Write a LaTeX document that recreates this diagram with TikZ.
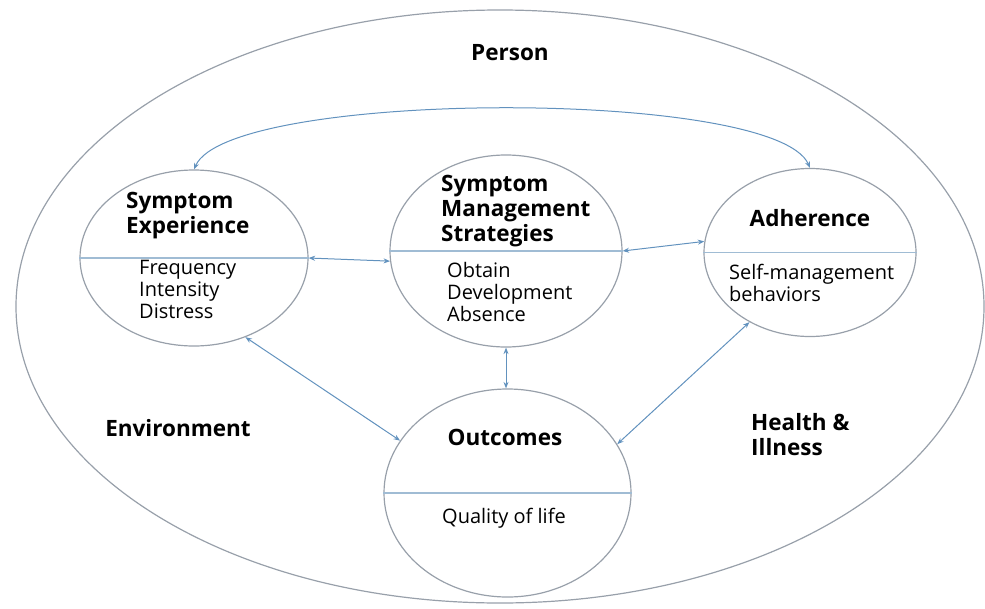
\documentclass[tikz,border=0pt]{standalone}
\usepackage{fontspec}
\setmainfont{Open Sans}
\usetikzlibrary{shapes, arrows.meta}
\definecolor{rimgray}{RGB}{152,160,170}
\definecolor{linkblue}{RGB}{98,146,190}
\definecolor{splitblue}{RGB}{160,188,212}

\begin{document}
\begin{tikzpicture}[x=1pt,y=-1pt]
      \tikzset{bubble/.style 2 args={ellipse,
          draw=rimgray,
          line width=1.2pt,
          inner sep=0pt,
          minimum width=#1,
          minimum height=#2},
        heading/.style={font=\fontsize{22.5}{25}\selectfont\bfseries, align=left, inner sep=0pt},
        items/.style={font=\fontsize{20}{22}\selectfont, align=left, anchor=west, inner sep=0pt},
        split line/.style={draw=splitblue, line width=1.2pt},
        link/.style={draw=linkblue, line width=1pt,
          {Stealth[length=6.5pt,width=5pt]}-{Stealth[length=6.5pt,width=5pt]}}
      }
      \useasboundingbox (0,0) rectangle (985,608);
      \node [bubble={968pt}{593pt}] (P) at (500,306.5) {};
      \node [bubble={228pt}{176pt}] (SE) at (194,258) {};
      \node [bubble={232pt}{192pt}] (SMS) at (506,251) {};
      \node [bubble={212pt}{168pt}] (AD) at (810,252.5) {};
      \node [bubble={247pt}{208pt}] (OC) at (507.5,493) {};

      \draw [split line] (SE.west) -- (SE.east);
      \draw [split line] (SMS.west) -- (SMS.east);
      \draw [split line] (AD.west) -- (AD.east);
      \draw [split line] (OC.west) -- (OC.east);

      \node [heading] (person) at (510,53) {Person};
      \node [heading, anchor=west] (SEt) at (126,215.5) {Symptom\\Experience};
      \node [heading, anchor=west] (SMSt) at (441,211) {Symptom\\Management\\Strategies};
      \node [heading] (ADt) at (810,218) {Adherence};
      \node [heading] (OCt) at (505,437) {Outcomes};
      \node [heading] (env) at (178,428) {Environment};
      \node [heading, anchor=west] (hi) at (751,434.5) {Health \&\\Illness};

      \node [items] (SEi) at (139,289) {Frequency\\Intensity\\Distress};
      \node [items] (SMSi) at (447,292) {Obtain\\Development\\Absence};
      \node [items] (ADi) at (729,283) {Self-management\\behaviors};
      \node [items, anchor=center] (OCi) at (504,518) {Quality of life};

      \draw [link] (SE.east) -- (SMS.185);
      \draw [link] (SMS.east) -- (AD.174);
      \draw [link] (SMS.south) -- (SMS.south |- OC.north);
      \draw [link] (SE.-57) -- (OC.154);
      \draw [link] (AD.229) -- (OC.24);
      \draw [link] (SE.north) .. controls +(35,-80) and +(-35,-80) .. (AD.north);
    \end{tikzpicture}
\end{document}
